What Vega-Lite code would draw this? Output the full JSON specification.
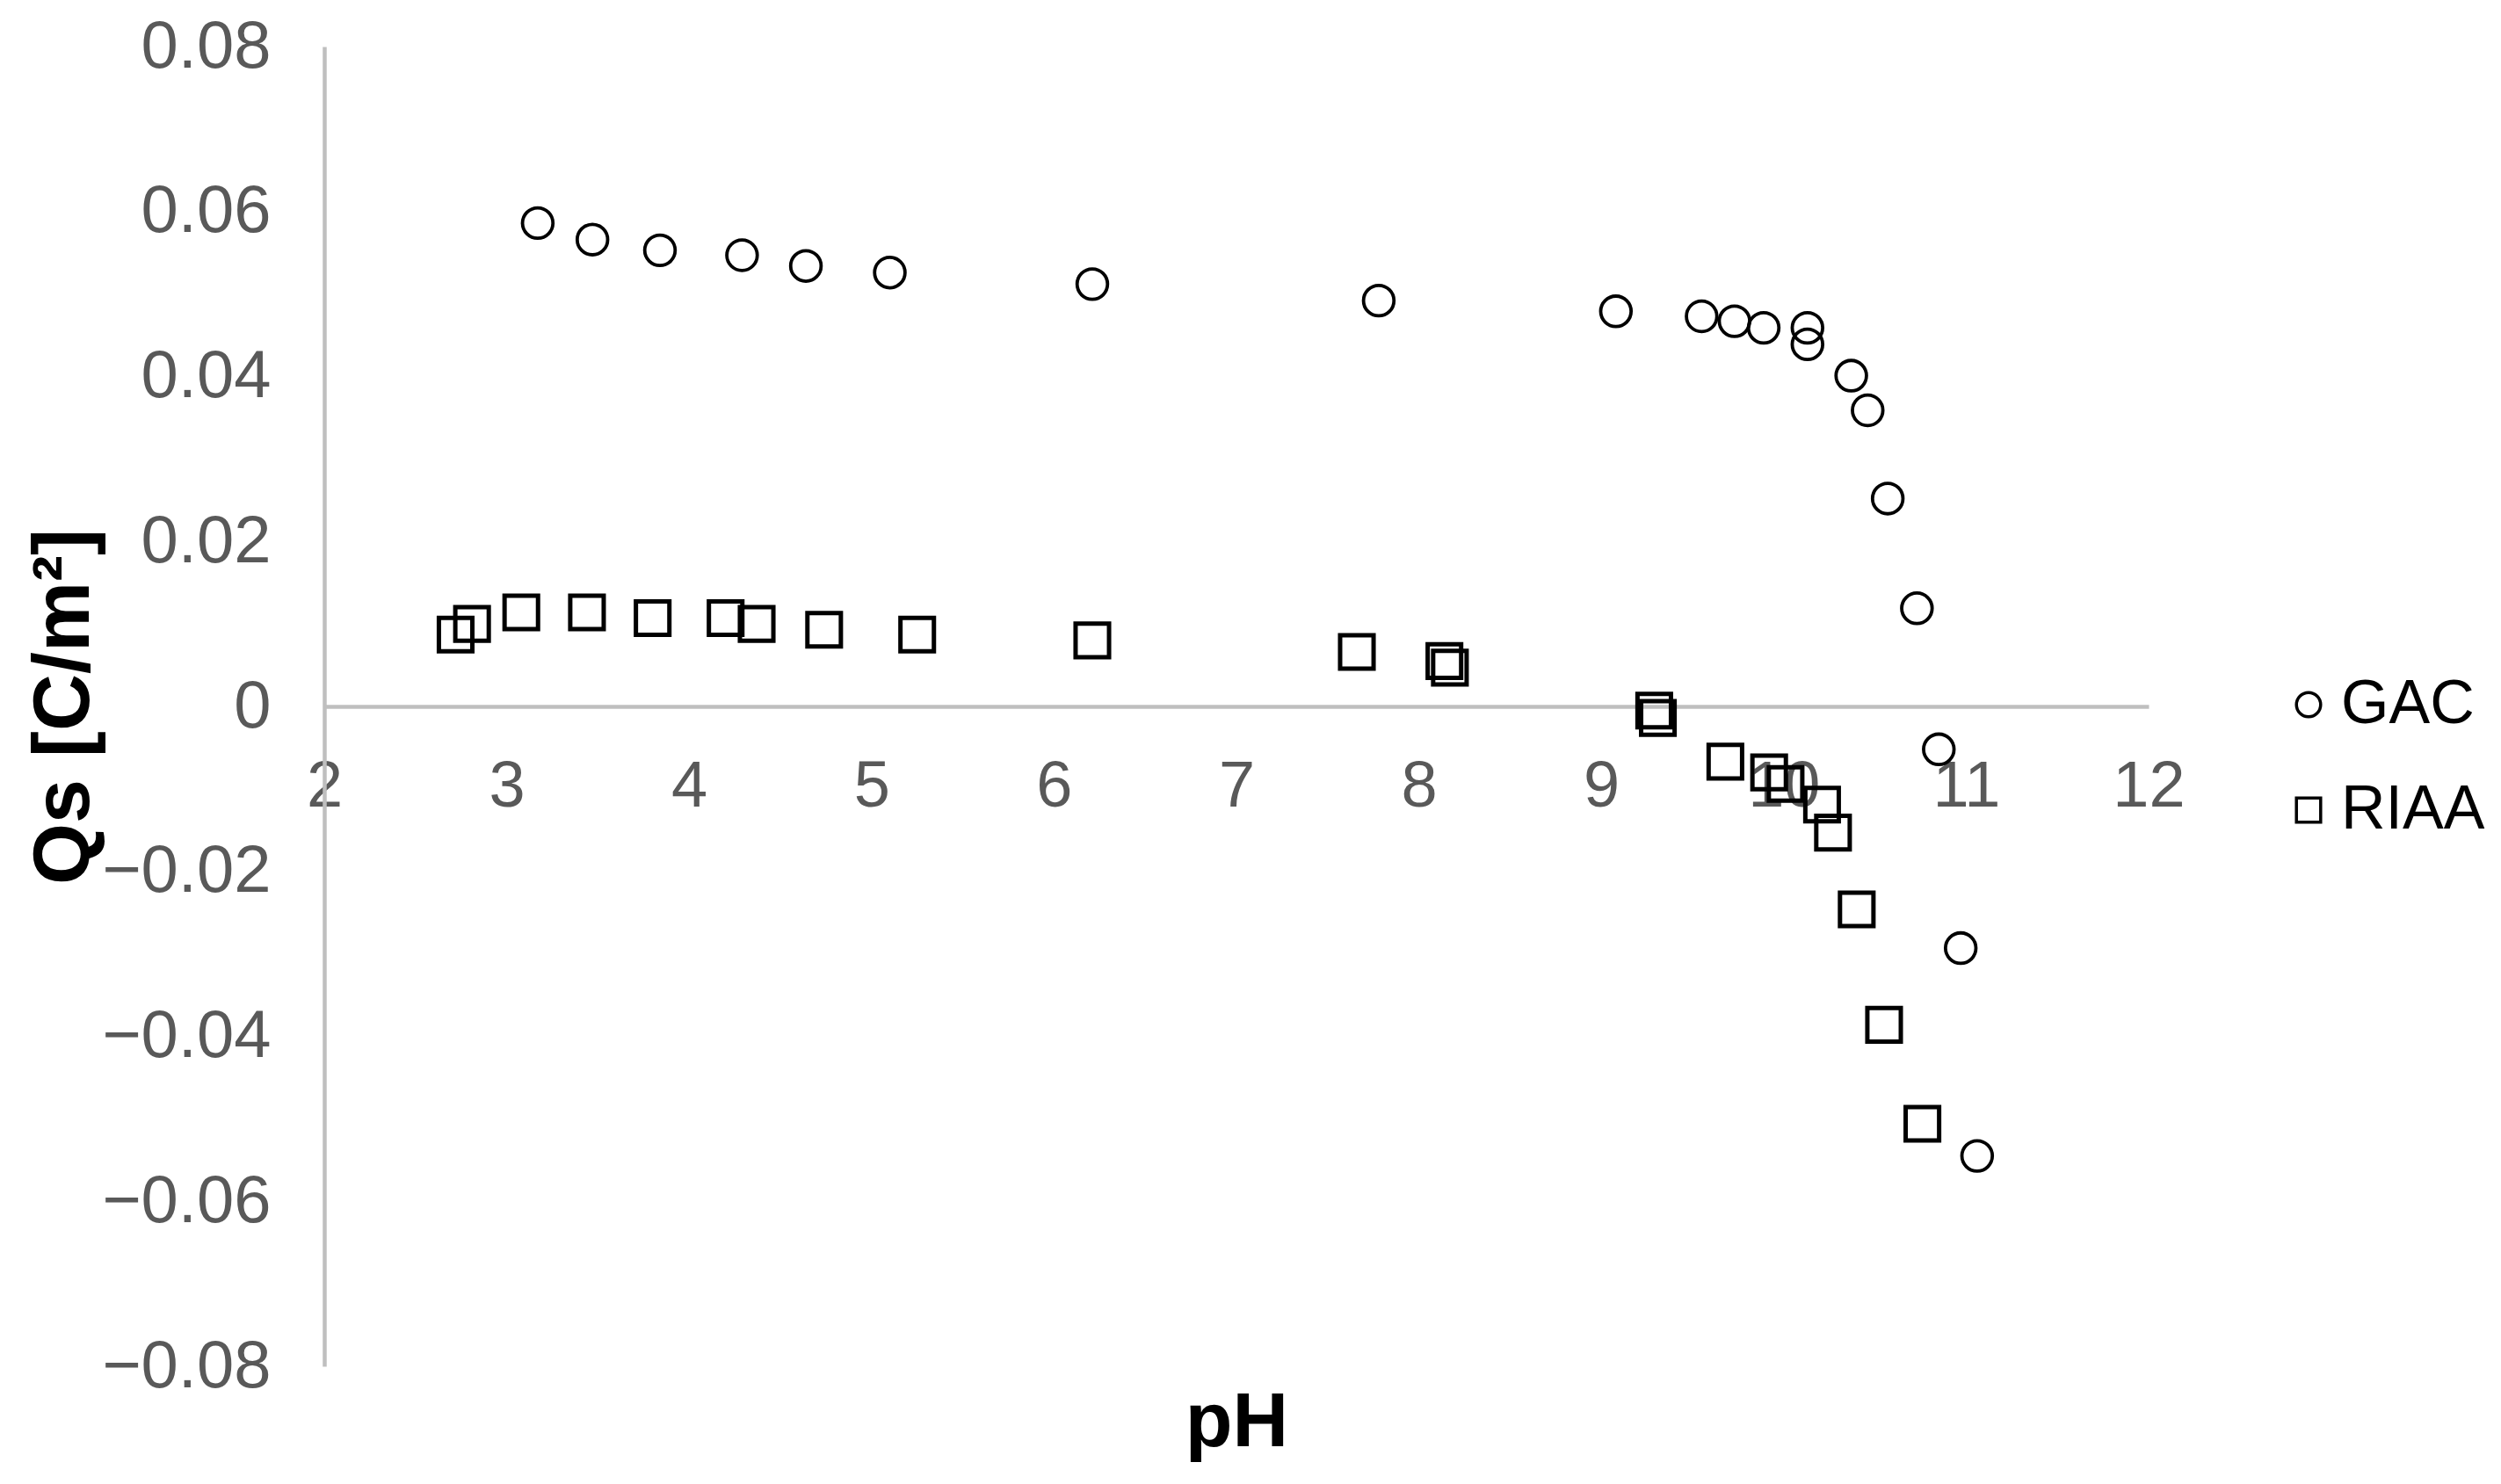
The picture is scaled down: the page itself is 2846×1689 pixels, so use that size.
{
  "$schema": "https://vega.github.io/schema/vega-lite/v6.json",
  "width": 2076,
  "height": 1502,
  "autosize": "none",
  "padding": {"left": 369, "top": 53, "right": 401, "bottom": 134},
  "background": "white",
  "config": {
    "view": {"stroke": null},
    "font": "Liberation Sans"
  },
  "data": {
    "values": [
      {"series": "GAC", "pH": 3.17, "Qs": 0.0586},
      {"series": "GAC", "pH": 3.47, "Qs": 0.0566},
      {"series": "GAC", "pH": 3.84, "Qs": 0.0553},
      {"series": "GAC", "pH": 4.29, "Qs": 0.0547},
      {"series": "GAC", "pH": 4.64, "Qs": 0.0534},
      {"series": "GAC", "pH": 5.10, "Qs": 0.0526},
      {"series": "GAC", "pH": 6.21, "Qs": 0.0512},
      {"series": "GAC", "pH": 7.78, "Qs": 0.0492},
      {"series": "GAC", "pH": 9.08, "Qs": 0.0479},
      {"series": "GAC", "pH": 9.55, "Qs": 0.0473},
      {"series": "GAC", "pH": 9.73, "Qs": 0.0467},
      {"series": "GAC", "pH": 9.89, "Qs": 0.0459},
      {"series": "GAC", "pH": 10.13, "Qs": 0.0459},
      {"series": "GAC", "pH": 10.13, "Qs": 0.0439},
      {"series": "GAC", "pH": 10.37, "Qs": 0.0401},
      {"series": "GAC", "pH": 10.46, "Qs": 0.0359},
      {"series": "GAC", "pH": 10.57, "Qs": 0.0252},
      {"series": "GAC", "pH": 10.73, "Qs": 0.0119},
      {"series": "GAC", "pH": 10.85, "Qs": -0.0052},
      {"series": "GAC", "pH": 10.97, "Qs": -0.0293},
      {"series": "GAC", "pH": 11.06, "Qs": -0.0545},
      {"series": "RIAA", "pH": 2.72, "Qs": 0.0087},
      {"series": "RIAA", "pH": 2.81, "Qs": 0.0100},
      {"series": "RIAA", "pH": 3.08, "Qs": 0.0114},
      {"series": "RIAA", "pH": 3.44, "Qs": 0.0114},
      {"series": "RIAA", "pH": 3.80, "Qs": 0.0107},
      {"series": "RIAA", "pH": 4.20, "Qs": 0.0107},
      {"series": "RIAA", "pH": 4.37, "Qs": 0.0100},
      {"series": "RIAA", "pH": 4.74, "Qs": 0.0093},
      {"series": "RIAA", "pH": 5.25, "Qs": 0.0087},
      {"series": "RIAA", "pH": 6.21, "Qs": 0.0080},
      {"series": "RIAA", "pH": 7.66, "Qs": 0.0066},
      {"series": "RIAA", "pH": 8.14, "Qs": 0.0055},
      {"series": "RIAA", "pH": 8.17, "Qs": 0.0047},
      {"series": "RIAA", "pH": 9.29, "Qs": -0.0005},
      {"series": "RIAA", "pH": 9.31, "Qs": -0.0014},
      {"series": "RIAA", "pH": 9.68, "Qs": -0.0067},
      {"series": "RIAA", "pH": 9.92, "Qs": -0.0080},
      {"series": "RIAA", "pH": 10.01, "Qs": -0.0094},
      {"series": "RIAA", "pH": 10.21, "Qs": -0.0119},
      {"series": "RIAA", "pH": 10.27, "Qs": -0.0153},
      {"series": "RIAA", "pH": 10.40, "Qs": -0.0246},
      {"series": "RIAA", "pH": 10.55, "Qs": -0.0386},
      {"series": "RIAA", "pH": 10.76, "Qs": -0.0506}
    ]
  },
  "encoding": {
    "x": {
      "field": "pH", "type": "quantitative",
      "scale": {"domain": [2, 12], "nice": false, "zero": false},
      "axis": {
        "title": "pH",
        "values": [2, 3, 4, 5, 6, 7, 8, 9, 10, 11, 12],
        "format": "d",
        "offset": -751,
        "grid": false,
        "ticks": false,
        "tickSize": 0,
        "domainColor": "#BFBFBF",
        "domainWidth": 4.5,
        "labelFont": "Liberation Sans",
        "labelFontSize": 74,
        "labelColor": "#595959",
        "labelPadding": 55,
        "labelLimit": 0,
        "labelFlush": false,
        "labelOverlap": false,
        "titleFont": "Liberation Sans",
        "titleFontSize": 88,
        "titleFontWeight": "bold",
        "titleColor": "black",
        "titleX": 1038,
        "titleY": 841,
        "titleBaseline": "alphabetic",
        "titleAlign": "center"
      }
    },
    "y": {
      "field": "Qs", "type": "quantitative",
      "scale": {"domain": [-0.08, 0.08], "nice": false, "zero": false},
      "axis": {
        "title": "Qs [C/m²]",
        "values": [-0.08, -0.06, -0.04, -0.02, 0, 0.02, 0.04, 0.06, 0.08],
        "format": ".2~f",
        "grid": false,
        "ticks": false,
        "tickSize": 0,
        "domainColor": "#BFBFBF",
        "domainWidth": 4.5,
        "labelFont": "Liberation Sans",
        "labelFontSize": 76,
        "labelColor": "#595959",
        "labelPadding": 61,
        "labelLimit": 0,
        "labelFlush": false,
        "labelOverlap": false,
        "titleFont": "Liberation Sans",
        "titleFontSize": 90,
        "titleFontWeight": "bold",
        "titleColor": "black",
        "titleX": -269,
        "titleY": 751,
        "titleAngle": -90,
        "titleBaseline": "alphabetic",
        "titleAlign": "center"
      }
    },
    "shape": {
      "field": "series", "type": "nominal",
      "scale": {"domain": ["GAC", "RIAA"], "range": ["circle", "square"]},
      "legend": {
        "title": null,
        "orient": "none",
        "legendX": 2223,
        "legendY": 714,
        "padding": 0,
        "rowPadding": 50,
        "symbolSize": 760,
        "symbolStrokeWidth": 3.5,
        "symbolStrokeColor": "black",
        "symbolFillColor": "white",
        "symbolOpacity": 1,
        "labelFont": "Liberation Sans",
        "labelFontSize": 70,
        "labelColor": "black",
        "labelOffset": 2,
        "labelLimit": 0
      }
    }
  },
  "layer": [
    {
      "transform": [{"filter": "datum.series === 'GAC'"}],
      "mark": {"type": "point", "filled": false, "color": "black", "opacity": 1, "size": 1200, "strokeWidth": 3.8}
    },
    {
      "transform": [{"filter": "datum.series === 'RIAA'"}],
      "mark": {"type": "point", "filled": false, "color": "black", "opacity": 1, "size": 1450, "strokeWidth": 5}
    }
  ]
}
